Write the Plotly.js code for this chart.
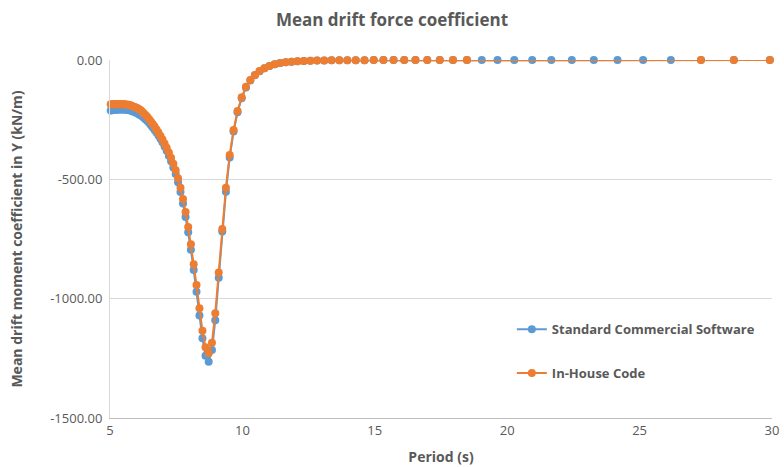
<!DOCTYPE html>
<html>
<head>
<meta charset="utf-8">
<script src="https://cdn.plot.ly/plotly-3.0.1.min.js"></script>
<style>html,body{margin:0;padding:0;background:#fff;}#chart{width:784px;height:467px;}</style>
</head>
<body>
<div id="chart"></div>
<script>
// Wave periods (s)
var periods = [5.027,5.067,5.108,5.150,5.193,5.236,5.280,5.325,5.370,5.417,5.464,5.512,5.560,5.610,5.660,5.712,5.764,5.818,5.872,5.928,5.984,6.042,6.100,6.160,6.221,6.283,6.347,6.411,6.478,6.545,6.614,6.684,6.756,6.830,6.905,6.981,7.060,7.140,7.222,7.306,7.392,7.480,7.570,7.662,7.757,7.854,7.953,8.055,8.160,8.267,8.378,8.491,8.607,8.727,8.850,8.976,9.106,9.240,9.378,9.520,9.666,9.817,9.973,10.134,10.300,10.472,10.649,10.833,11.023,11.220,11.424,11.636,11.855,12.083,12.320,12.566,12.823,13.090,13.368,13.659,13.963,14.280,14.612,14.960,15.325,15.708,16.111,16.535,16.982,17.453,17.952,18.480,19.040,19.635,20.268,20.944,21.666,22.440,23.271,24.166,25.133,26.180,27.318,28.560,29.920];

// Standard Commercial Software
var commercial = [-212,-211,-210,-209,-208,-208,-207,-207,-207,-207,-207,-207,-207,-208,-209,-210,-212,-214,-216,-218,-221,-224,-228,-232,-237,-243,-249,-256,-264,-273,-283,-293,-304,-316,-330,-345,-362,-380,-401,-424,-450,-478,-512,-553,-601,-658,-722,-795,-880,-971,-1071,-1166,-1239,-1264,-1215,-1090,-912,-719,-552,-408,-300,-219,-160,-115,-86,-64,-47,-35,-25,-18,-13,-9,-7,-5,-4,-3,-2,-2,-1,-1,-1,-1,-1,0,0,0,0,0,0,0,0,0,0,0,0,0,0,0,0,0,0,0,0,0,0];

// In-House Code periods and values
var inhousePeriods = [5.027,5.067,5.108,5.150,5.193,5.236,5.280,5.325,5.370,5.417,5.464,5.512,5.560,5.610,5.660,5.712,5.764,5.818,5.872,5.928,5.984,6.042,6.100,6.160,6.221,6.283,6.347,6.411,6.478,6.545,6.614,6.684,6.756,6.830,6.905,6.981,7.060,7.140,7.222,7.306,7.392,7.480,7.570,7.662,7.757,7.854,7.953,8.055,8.160,8.267,8.378,8.491,8.607,8.727,8.850,8.976,9.106,9.240,9.378,9.520,9.666,9.817,9.973,10.134,10.300,10.472,10.649,10.833,11.023,11.220,11.424,11.636,11.855,12.083,12.320,12.566,12.823,13.090,13.368,13.659,13.963,14.280,14.612,14.960,15.325,15.708,16.111,16.535,16.982,17.453,17.952,18.480,27.318,28.560,29.920];
var inhouse = [-185,-185,-185,-185,-185,-185,-185,-185,-185,-185,-185,-185,-185,-186,-187,-188,-190,-192,-195,-197,-199,-202,-206,-211,-217,-224,-231,-239,-248,-258,-268,-279,-291,-304,-318,-333,-350,-368,-388,-410,-435,-462,-495,-535,-582,-637,-700,-772,-856,-943,-1040,-1134,-1204,-1229,-1185,-1061,-890,-708,-535,-398,-293,-214,-156,-112,-84,-63,-46,-35,-25,-18,-13,-9,-7,-5,-4,-3,-2,-2,-1,-1,-1,-1,-1,0,0,0,0,0,0,0,0,0,0,0,0];

var yTickVals = [0,-500,-1000,-1500];
var yTickText = ["0.00","-500.00","-1000.00","-1500.00"];
var xTickVals = [5,10,15,20,25,30];

var grey = '#595959';
var fontFam = '"Open Sans", "Liberation Sans", sans-serif';

var traces = [
  {x: periods, y: commercial, name: 'Standard Commercial Software', type: 'scatter', mode: 'lines+markers',
   line: {color: '#5b9bd5', width: 2}, marker: {color: '#5b9bd5', size: 8}, cliponaxis: false, legendgroup: 'a'},
  {x: inhousePeriods, y: inhouse, name: 'In-House Code', type: 'scatter', mode: 'lines+markers',
   line: {color: '#ed7d31', width: 2}, marker: {color: '#ed7d31', size: 8}, cliponaxis: false, legendgroup: 'b'}
];

var layout = {
  width: 784, height: 467,
  margin: {l: 110, r: 12, t: 60, b: 49},
  paper_bgcolor: '#ffffff', plot_bgcolor: '#ffffff',
  font: {family: fontFam, color: grey, size: 13},
  title: {text: 'Mean drift force coefficient', font: {size: 17, color: grey, family: fontFam, weight: 'bold'}, x: 0.5, xanchor: 'center', y: 0.958, yanchor: 'middle'},
  xaxis: {range: [5, 30], tickvals: xTickVals, showgrid: false, zeroline: false, showline: true, linecolor: '#bfbfbf', linewidth: 1,
          ticks: '', tickfont: {size: 13, color: grey}, title: {text: 'Period (s)', font: {size: 14, color: grey, weight: 'bold'}, standoff: 14}, automargin: false},
  yaxis: {range: [-1500, 0], tickvals: yTickVals, ticktext: yTickText, showgrid: true, gridcolor: '#d9d9d9', gridwidth: 1, zeroline: false,
          showline: true, linecolor: '#d9d9d9', ticks: '', ticklabelstandoff: 4, tickfont: {size: 13, color: grey}, automargin: false,
          title: {text: 'Mean drift moment coefficient in Y (kN/m)', font: {size: 14, color: grey, weight: 'bold'}, standoff: 24}},
  showlegend: true,
  legend: {x: 0.607, y: 0.29, xanchor: 'left', yanchor: 'top', bgcolor: 'rgba(0,0,0,0)', font: {size: 13, color: grey, weight: 'bold'}, tracegroupgap: 24,
           traceorder: 'grouped'}
};

Plotly.newPlot('chart', traces, layout, {displayModeBar: false, staticPlot: true});
</script>
</body>
</html>
